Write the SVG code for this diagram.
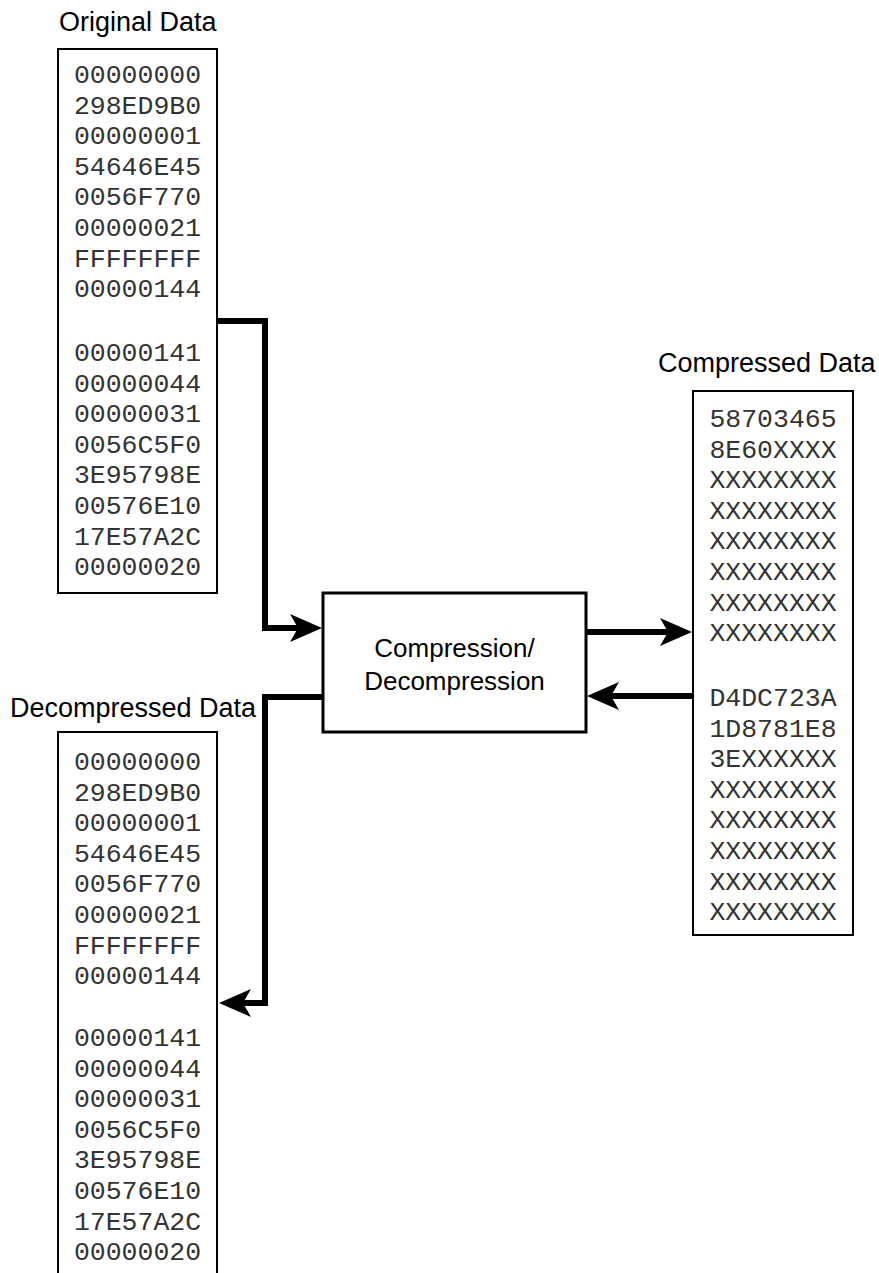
<svg xmlns="http://www.w3.org/2000/svg" width="879" height="1273" viewBox="0 0 879 1273">
  <style>
    .label { font-family: "Liberation Sans", Arial, sans-serif; font-size: 27px; fill: #000; }
    .ptext { font-family: "Liberation Sans", Arial, sans-serif; font-size: 26px; fill: #000; text-anchor: middle; }
    .mono { font-family: "Liberation Mono", "Courier New", monospace; font-size: 26.5px; fill: #333; text-anchor: middle; }
    .box { fill: #fff; stroke: #000; stroke-width: 2; }
    .proc { fill: #fff; stroke: #000; stroke-width: 3; }
    .conn { fill: none; stroke: #000; stroke-width: 6; stroke-linejoin: miter; marker-end: url(#arrow); }
  </style>
  <defs>
    <marker id="arrow" viewBox="0 0 32 28" refX="8" refY="14" markerWidth="32" markerHeight="28" markerUnits="userSpaceOnUse" orient="auto">
      <path d="M0,0 L32,14 L0,28 L8,14 Z" fill="#000"/>
    </marker>
  </defs>
  <rect width="879" height="1273" fill="#fff"/>

  <g id="original">
    <text class="label" x="59" y="31">Original Data</text>
    <rect class="box" x="58" y="49" width="159" height="544"/>
    <text class="mono" x="137.5" y="83">00000000</text>
    <text class="mono" x="137.5" y="113.6">298ED9B0</text>
    <text class="mono" x="137.5" y="144.2">00000001</text>
    <text class="mono" x="137.5" y="174.8">54646E45</text>
    <text class="mono" x="137.5" y="205.4">0056F770</text>
    <text class="mono" x="137.5" y="236">00000021</text>
    <text class="mono" x="137.5" y="266.6">FFFFFFFF</text>
    <text class="mono" x="137.5" y="297.2">00000144</text>
    <text class="mono" x="137.5" y="361">00000141</text>
    <text class="mono" x="137.5" y="391.6">00000044</text>
    <text class="mono" x="137.5" y="422.2">00000031</text>
    <text class="mono" x="137.5" y="452.8">0056C5F0</text>
    <text class="mono" x="137.5" y="483.4">3E95798E</text>
    <text class="mono" x="137.5" y="514">00576E10</text>
    <text class="mono" x="137.5" y="544.6">17E57A2C</text>
    <text class="mono" x="137.5" y="575.2">00000020</text>
  </g>

  <g id="process">
    <rect class="proc" x="323" y="593" width="263" height="139"/>
    <text class="ptext" x="454.5" y="657">Compression/</text>
    <text class="ptext" x="454.5" y="690">Decompression</text>
  </g>

  <g id="compressed">
    <text class="label" x="658" y="372">Compressed Data</text>
    <rect class="box" x="693" y="391" width="160" height="544"/>
    <text class="mono" x="773" y="427">58703465</text>
    <text class="mono" x="773" y="457.6">8E60XXXX</text>
    <text class="mono" x="773" y="488.2">XXXXXXXX</text>
    <text class="mono" x="773" y="518.8">XXXXXXXX</text>
    <text class="mono" x="773" y="549.4">XXXXXXXX</text>
    <text class="mono" x="773" y="580">XXXXXXXX</text>
    <text class="mono" x="773" y="610.6">XXXXXXXX</text>
    <text class="mono" x="773" y="641.2">XXXXXXXX</text>
    <text class="mono" x="773" y="706">D4DC723A</text>
    <text class="mono" x="773" y="736.6">1D8781E8</text>
    <text class="mono" x="773" y="767.2">3EXXXXXX</text>
    <text class="mono" x="773" y="797.8">XXXXXXXX</text>
    <text class="mono" x="773" y="828.4">XXXXXXXX</text>
    <text class="mono" x="773" y="859">XXXXXXXX</text>
    <text class="mono" x="773" y="889.6">XXXXXXXX</text>
    <text class="mono" x="773" y="920.2">XXXXXXXX</text>
  </g>

  <g id="decompressed">
    <text class="label" x="10" y="717">Decompressed Data</text>
    <rect class="box" x="58" y="732" width="159" height="560"/>
    <text class="mono" x="137.5" y="770">00000000</text>
    <text class="mono" x="137.5" y="800.6">298ED9B0</text>
    <text class="mono" x="137.5" y="831.2">00000001</text>
    <text class="mono" x="137.5" y="861.8">54646E45</text>
    <text class="mono" x="137.5" y="892.4">0056F770</text>
    <text class="mono" x="137.5" y="923">00000021</text>
    <text class="mono" x="137.5" y="953.6">FFFFFFFF</text>
    <text class="mono" x="137.5" y="984.2">00000144</text>
    <text class="mono" x="137.5" y="1046">00000141</text>
    <text class="mono" x="137.5" y="1076.6">00000044</text>
    <text class="mono" x="137.5" y="1107.2">00000031</text>
    <text class="mono" x="137.5" y="1137.8">0056C5F0</text>
    <text class="mono" x="137.5" y="1168.4">3E95798E</text>
    <text class="mono" x="137.5" y="1199">00576E10</text>
    <text class="mono" x="137.5" y="1229.6">17E57A2C</text>
    <text class="mono" x="137.5" y="1260.2">00000020</text>
  </g>

  <g id="connectors">
    <path class="conn" d="M217,321 H265 V628 H298"/>
    <path class="conn" d="M587,632 H668"/>
    <path class="conn" d="M693,696 H611"/>
    <path class="conn" d="M322,697 H265 V1003 H243"/>
  </g>
</svg>
